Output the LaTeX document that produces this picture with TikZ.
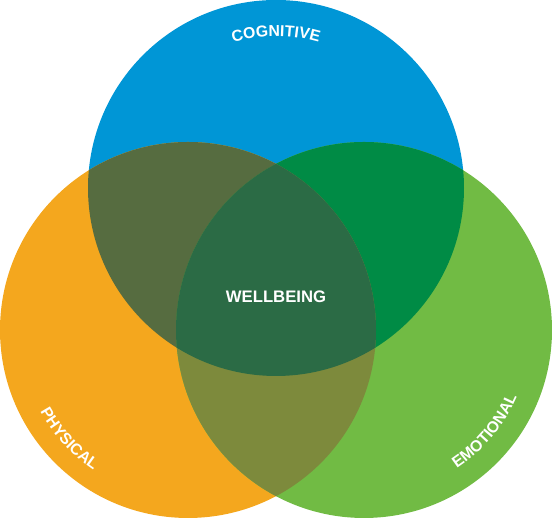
\documentclass[tikz,border=0pt]{standalone}
\usepackage{fontspec}
\setsansfont{Liberation Sans}
\usetikzlibrary{decorations.text}
\definecolor{cogblue}{HTML}{0096D6}
\definecolor{phyorange}{HTML}{F4A71E}
\definecolor{emogreen}{HTML}{71BB44}
\definecolor{cogphy}{HTML}{566C40}
\definecolor{cogemo}{HTML}{008B45}
\definecolor{phyemo}{HTML}{7D8A3C}
\definecolor{wellgreen}{HTML}{2B6B45}
\tikzset{vennlabel/.style={font=\sffamily\bfseries\fontsize{9.5}{10}\selectfont,text=white},arclabel/.style={decorate,decoration={text along path,text align=center,text color=white,text={|\sffamily\bfseries\fontsize{9}{9}\selectfont|#1}}}}

\begin{document}
\begin{tikzpicture}[x=0.02cm,y=0.02cm]
\useasboundingbox (0,0) rectangle (552,519);
\coordinate (cog) at (276,331);
\coordinate (phy) at (188,189);
\coordinate (emo) at (364,189);
\fill[cogblue] (cog) circle (188);
\fill[phyorange] (phy) circle (188);
\fill[emogreen] (emo) circle (188);
\begin{scope}\clip (cog) circle (188); \fill[cogphy] (phy) circle (188); \end{scope}
\begin{scope}\clip (cog) circle (188); \fill[cogemo] (emo) circle (188); \end{scope}
\begin{scope}\clip (phy) circle (188); \fill[phyemo] (emo) circle (188); \end{scope}
\begin{scope}\clip (cog) circle (188); \clip (phy) circle (188); \fill[wellgreen] (emo) circle (188); \end{scope}
\node[vennlabel] (well) at (276,222) {WELLBEING};
\path[arclabel=COGNITIVE] ([shift={(125:152)}]cog) arc[start angle=125,end angle=55,radius=152];
\path[arclabel=PHYSICAL] ([shift={(195:169)}]phy) arc[start angle=195,end angle=250,radius=169];
\path[arclabel=EMOTIONAL] ([shift={(292:167)}]emo) arc[start angle=292,end angle=348,radius=167];
\end{tikzpicture}
\end{document}
